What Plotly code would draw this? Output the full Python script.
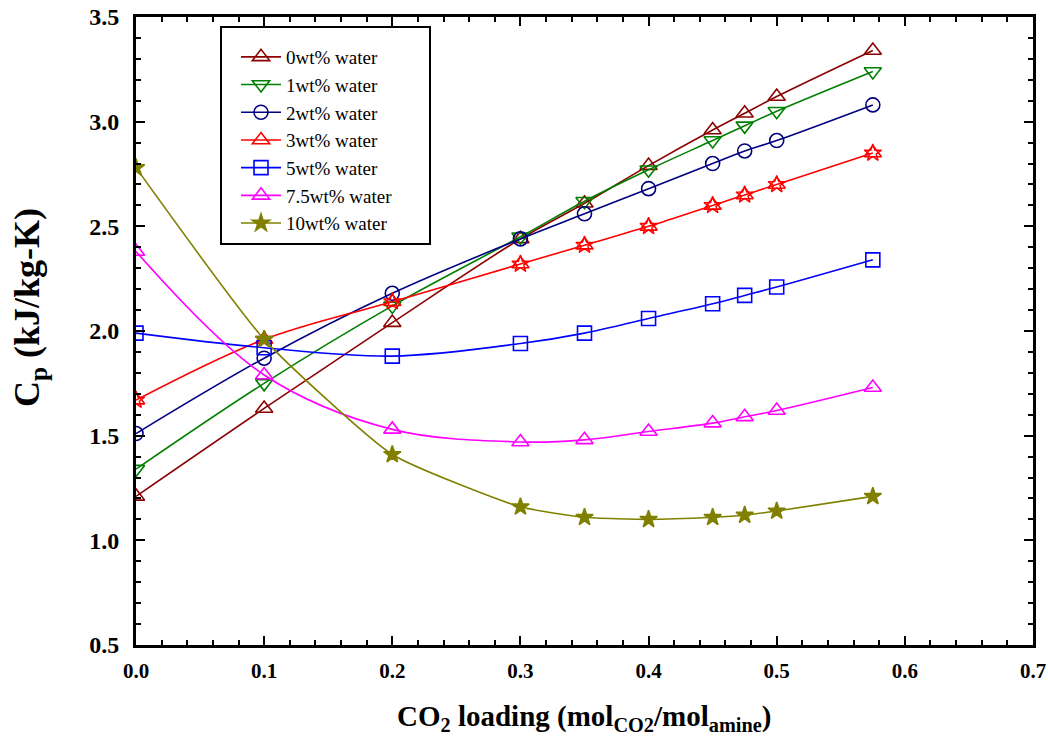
import plotly.graph_objects as go

loading = [0.0, 0.1, 0.2, 0.3, 0.35, 0.4, 0.45, 0.475, 0.5, 0.575]

cp_0 = [1.21, 1.63, 2.04, 2.44, 2.61, 2.79, 2.96, 3.04, 3.12, 3.34]
cp_1 = [1.34, 1.75, 2.12, 2.45, 2.62, 2.77, 2.91, 2.98, 3.05, 3.24]
cp_2 = [1.51, 1.87, 2.18, 2.44, 2.56, 2.68, 2.80, 2.86, 2.91, 3.08]
cp_3 = [1.67, 1.96, 2.14, 2.32, 2.41, 2.50, 2.60, 2.65, 2.70, 2.85]
cp_5 = [1.99, 1.92, 1.88, 1.94, 1.99, 2.06, 2.13, 2.17, 2.21, 2.34]
cp_75 = [2.38, 1.79, 1.53, 1.47, 1.48, 1.52, 1.56, 1.59, 1.62, 1.73]
cp_10 = [2.78, 1.96, 1.41, 1.16, 1.11, 1.10, 1.11, 1.12, 1.14, 1.21]

names = ["0wt% water", "1wt% water", "2wt% water", "3wt% water",
         "5wt% water", "7.5wt% water", "10wt% water"]
series = [cp_0, cp_1, cp_2, cp_3, cp_5, cp_75, cp_10]
colors = ["#8B0000", "#008000", "#000080", "#FF0000", "#0000FF", "#FF00FF", "#808000"]
symbols = ["triangle-up-open", "triangle-down-open", "circle-open", "triangle-up-open",
           "square-open", "triangle-up-open", "star"]
sizes = [15, 15, 14, 15, 14, 15, 13]
smooth = [1.0, 1.0, 1.0, 1.0, 1.0, 1.0, 0.5]

x_title = "CO<sub>2</sub> loading (mol<sub>CO2</sub>/mol<sub>amine</sub>)"
y_title = "C<sub>p</sub> (kJ/kg-K)"

fig = go.Figure()
for i, (nm, ys) in enumerate(zip(names, series)):
    fig.add_trace(go.Scatter(
        x=loading, y=ys, name=nm, mode="lines+markers",
        line=dict(color=colors[i], width=1.6, shape="spline", smoothing=smooth[i]),
        marker=dict(symbol=symbols[i], size=sizes[i], color=colors[i],
                    line=dict(color=colors[i], width=1.6)),
        legendgroup=nm,
    ))
    if i == 3:
        fig.add_trace(go.Scatter(
            x=loading, y=ys, mode="markers", showlegend=False, legendgroup=nm,
            marker=dict(symbol="star-open", size=13, color=colors[i],
                        line=dict(color=colors[i], width=1.4)),
        ))

serif = "Liberation Serif, Times New Roman, serif"
axis_common = dict(
    showline=True, linecolor="black", linewidth=3, mirror="allticks",
    ticks="inside", ticklen=9, tickwidth=2, tickcolor="black",
    showgrid=False, zeroline=False, automargin=False,
)

fig.update_xaxes(
    range=[0, 0.7], dtick=0.1, tickformat=".1f",
    minor=dict(dtick=0.02, ticks="inside", ticklen=5, tickwidth=1.5, tickcolor="black"),
    tickfont=dict(family=serif, size=21, color="black", weight="bold"),
    ticklabelstandoff=5,
    **axis_common,
)
fig.update_yaxes(
    range=[0.5, 3.5], dtick=0.5, tickformat=".1f",
    minor=dict(dtick=0.1, ticks="inside", ticklen=5, tickwidth=1.5, tickcolor="black"),
    tickfont=dict(family=serif, size=24, color="black", weight="bold"),
    ticklabelstandoff=9,
    **axis_common,
)

PW, PH = 897, 628  # plot area size in px (for paper-coordinate placement)

fig.add_annotation(text=x_title, xref="paper", yref="paper",
                   x=(584 - 136) / PW, y=(645 - 718) / PH,
                   xanchor="center", yanchor="middle", showarrow=False,
                   font=dict(family=serif, size=29, color="black", weight="bold"))
fig.add_annotation(text=y_title, xref="paper", yref="paper",
                   x=(30 - 136) / PW, y=(645 - 308) / PH, textangle=-90,
                   xanchor="center", yanchor="middle", showarrow=False,
                   font=dict(family=serif, size=36, color="black", weight="bold"))

# legend frame
fig.add_shape(type="rect", xref="paper", yref="paper",
              x0=(221 - 136) / PW, x1=(430 - 136) / PW,
              y0=(645 - 244) / PH, y1=(645 - 27) / PH,
              line=dict(color="black", width=2), fillcolor="white", layer="below")

fig.update_layout(
    width=1048, height=745,
    margin=dict(l=136, r=15, t=17, b=100),
    plot_bgcolor="white", paper_bgcolor="white",
    legend=dict(
        x=(236 - 136) / PW, y=(645 - 38) / PH, xanchor="left", yanchor="top",
        borderwidth=0, bgcolor="rgba(0,0,0,0)",
        font=dict(family=serif, size=19, color="black"),
        tracegroupgap=0, itemwidth=40,
    ),
    showlegend=True,
)

fig.write_html("out.html", config={"displayModeBar": False},
               post_script="document.body.style.margin='0';")
